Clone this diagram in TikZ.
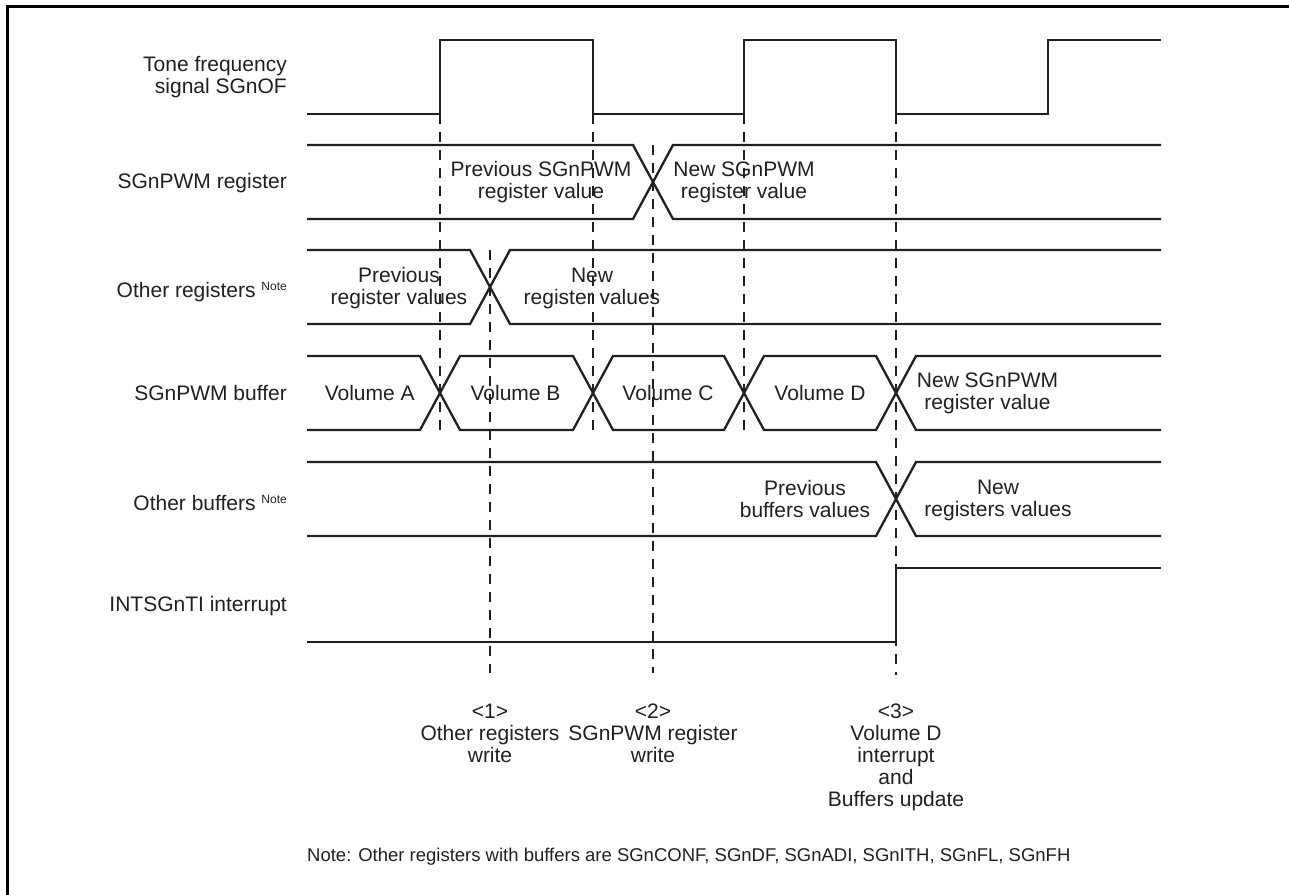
\documentclass[tikz,border=0pt]{standalone}
\usepackage{fontspec}
\setmainfont{Liberation Sans}
\definecolor{ink}{HTML}{231F20}
\newcommand\notesup{\raisebox{7pt}{\fontsize{12}{12}\selectfont Note}}
\begin{document}
\begin{tikzpicture}[x=1pt,y=-1pt,
  wave/.style={draw=ink,line width=2.3pt,line join=miter},
  guide/.style={draw=ink,line width=1.4pt,dash pattern=on 10pt off 8pt},
  frame/.style={draw=black,line width=3pt},
  lbl/.style={text=ink,inner sep=0pt,font=\fontsize{21}{22}\selectfont,align=center},
  sig/.style={lbl,align=right}]
\useasboundingbox (0,0) rectangle (1289,894);
% frame (only top and left visible)
\draw[frame] (7,900) -- (7,6) -- (1295,6);

% guide lines
\draw[guide] (440,114) -- (440,430);
\draw[guide] (593,114) -- (593,430);
\draw[guide] (744,114) -- (744,430);
\draw[guide] (896,114) -- (896,675);
\draw[guide] (490,250) -- (490,673);
\draw[guide] (653,145) -- (653,673);

% Tone frequency signal
\draw[wave] (307,114) -- (440,114) -- (440,40) -- (593,40) -- (593,114) -- (744,114)
  -- (744,40) -- (896,40) -- (896,114) -- (1048,114) -- (1048,40) -- (1161,40);
% SGnPWM register
\draw[wave] (307,145) -- (633,145) -- (673,219) -- (1161,219);
\draw[wave] (307,219) -- (633,219) -- (673,145) -- (1161,145);
% Other registers
\draw[wave] (307,250) -- (470,250) -- (510,324) -- (1161,324);
\draw[wave] (307,324) -- (470,324) -- (510,250) -- (1161,250);
% SGnPWM buffer
\draw[wave] (307,356) -- (420,356) -- (460,430) -- (573,430) -- (613,356) -- (724,356)
  -- (764,430) -- (876,430) -- (916,356) -- (1161,356);
\draw[wave] (307,430) -- (420,430) -- (460,356) -- (573,356) -- (613,430) -- (724,430)
  -- (764,356) -- (876,356) -- (916,430) -- (1161,430);
% Other buffers
\draw[wave] (307,462) -- (876,462) -- (916,536) -- (1161,536);
\draw[wave] (307,536) -- (876,536) -- (916,462) -- (1161,462);
% INTSGnTI interrupt
\draw[wave] (307,642) -- (896,642) -- (896,568) -- (1161,568);

% signal names
\node[sig,anchor=east] (nTone) at (287,77) {Tone frequency\\signal SGnOF};
\node[sig,anchor=base east] (nPwmReg) at (287,188.5) {SGnPWM register};
\node[sig,anchor=base east] (nOthReg) at (287,297.5) {Other registers \notesup};
\node[sig,anchor=base east] (nPwmBuf) at (287,400) {SGnPWM buffer};
\node[sig,anchor=base east] (nOthBuf) at (287,510) {Other buffers \notesup};
\node[sig,anchor=base east] (nInt) at (287,611.5) {INTSGnTI interrupt};

% values
\node[lbl] (vPrevPwm) at (541,182.5) {Previous SGnPWM\\register value};
\node[lbl] (vNewPwm) at (744,182.5) {New SGnPWM\\register value};
\node[lbl] (vPrevReg) at (399,288.5) {Previous\\register values};
\node[lbl] (vNewReg) at (592,288.7) {New\\register values};
\node[lbl,anchor=base] (vA) at (369.7,400) {Volume A};
\node[lbl,anchor=base] (vB) at (515.5,400) {Volume B};
\node[lbl,anchor=base] (vC) at (668,400) {Volume C};
\node[lbl,anchor=base] (vD) at (820,400) {Volume D};
\node[lbl] (vNewBuf) at (987.5,393.5) {New SGnPWM\\register value};
\node[lbl] (vPrevBuf) at (805,498.5) {Previous\\buffers values};
\node[lbl] (vNewBufs) at (998,500.7) {New\\registers values};

% events
\node[lbl] (e1) at (490,733.5) {<1>\\Other registers\\write};
\node[lbl] (e2) at (653,733.5) {<2>\\SGnPWM register\\write};
\node[lbl] (e3) at (896,757.7) {<3>\\Volume D\\interrupt\\and\\Buffers update};

% note
\node[lbl,anchor=base west,font=\fontsize{18.5}{20}\selectfont] (note) at (307,861) {Note: Other registers with buffers are SGnCONF, SGnDF, SGnADI, SGnITH, SGnFL, SGnFH};
\end{tikzpicture}
\end{document}
